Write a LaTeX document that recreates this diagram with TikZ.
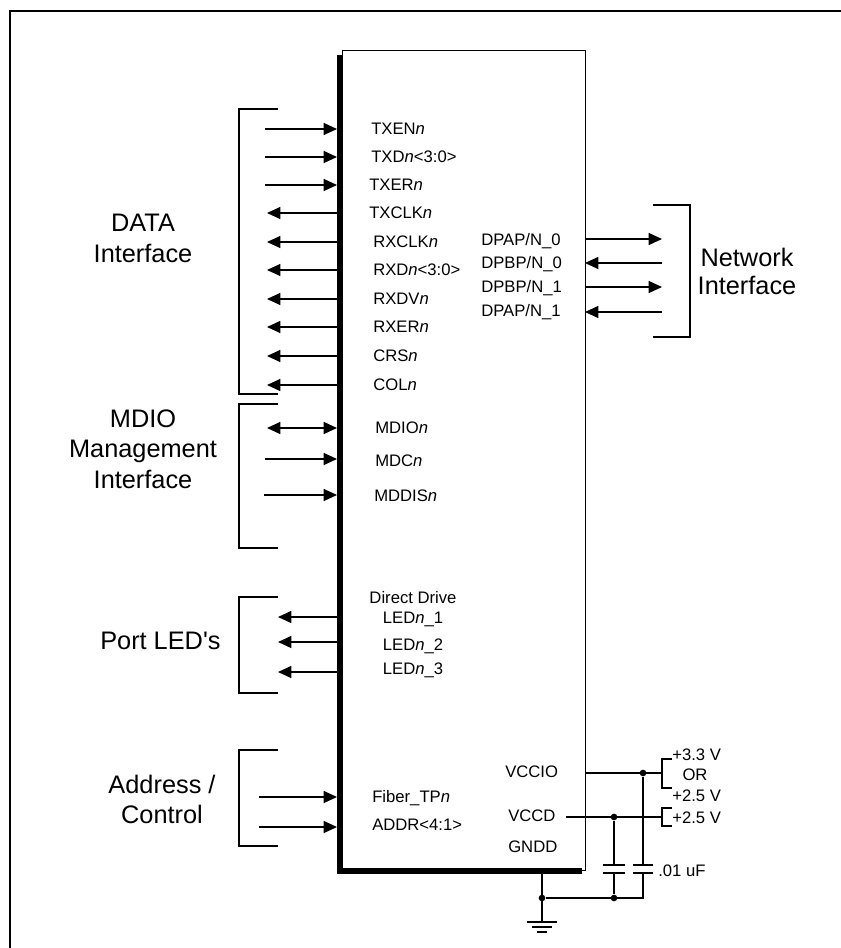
\documentclass[tikz,border=0pt]{standalone}
\usepackage{fontspec}
\setmainfont{Liberation Sans}
\usetikzlibrary{arrows.meta}
\newcommand\pinfont{\fontsize{12.5}{15}\selectfont}
\newcommand\grpfont{\fontsize{19}{23}\selectfont}
\begin{document}
\begin{tikzpicture}[x=0.75pt,y=-0.75pt,
  wire/.style={line width=0.9pt},
  tipr/.style={-{Triangle[length=10pt,width=9pt]}},
  tipb/.style={{Triangle[length=10pt,width=9pt]}-{Triangle[length=10pt,width=9pt]}},
  brk/.style={line width=0.8pt},
  pin/.style={font=\pinfont,anchor=west,inner sep=0pt},
  grp/.style={font=\grpfont,anchor=base,inner sep=0pt},
  dotc/.style={circle,fill,inner sep=0pt,minimum size=5pt}]
\useasboundingbox (0,0) rectangle (841,948);
% outer frame (top and left)
\draw[line width=1.6pt] (10,948) -- (10,11) -- (841,11);
% chip
\node[draw,line width=0.8pt,minimum width=182.25pt,minimum height=615pt,inner sep=0pt,anchor=north west] (chip) at (342,50) {};
\fill (337,55) rectangle (343,874);
\fill (337,868) rectangle (582,874);
% ---- DATA interface
\draw[brk] (278,109) -- (239,109) -- (239,394) -- (278,394);
\node[grp] (g1a) at (143,232) {DATA};
\node[grp] (g1b) at (143,263) {Interface};
\foreach \n/\y/\x in {txen/129/265,txd/157/265,txer/185/265}{
  \coordinate (\n-e) at (\x,\y); \coordinate (\n-p) at (337,\y);
  \draw[wire,tipr] (\n-e) -- (\n-p);}
\foreach \n/\y in {txclk/213,rxclk/242,rxd/270,rxdv/299,rxer/327,crs/356,col/385}{
  \coordinate (\n-e) at (267,\y); \coordinate (\n-p) at (337,\y);
  \draw[wire,tipr] (\n-p) -- (\n-e);}
\node[pin] (l1) at (371,129) {TXEN\textit{n}};
\node[pin] (l2) at (371,157) {TXD\textit{n}<3:0>};
\node[pin] (l3) at (369,185) {TXER\textit{n}};
\node[pin] (l4) at (369,213) {TXCLK\textit{n}};
\node[pin] (l5) at (373,242) {RXCLK\textit{n}};
\node[pin] (l6) at (373,270) {RXD\textit{n}<3:0>};
\node[pin] (l7) at (373,299) {RXDV\textit{n}};
\node[pin] (l8) at (373,327) {RXER\textit{n}};
\node[pin] (l9) at (373,356) {CRS\textit{n}};
\node[pin] (l10) at (373,385) {COL\textit{n}};
% ---- MDIO
\draw[brk] (278,404) -- (239,404) -- (239,548) -- (278,548);
\node[grp] (g2a) at (143,427) {MDIO};
\node[grp] (g2b) at (143,457) {Management};
\node[grp] (g2c) at (143,488) {Interface};
\coordinate (mdio-e) at (267,428); \coordinate (mdio-p) at (337,428);
\draw[wire,tipb] (mdio-e) -- (mdio-p);
\coordinate (mdc-e) at (265,459); \coordinate (mdc-p) at (337,459);
\draw[wire,tipr] (mdc-e) -- (mdc-p);
\coordinate (mddis-e) at (264,495); \coordinate (mddis-p) at (337,495);
\draw[wire,tipr] (mddis-e) -- (mddis-p);
\node[pin] (m1) at (375,428) {MDIO\textit{n}};
\node[pin] (m2) at (375,461) {MDC\textit{n}};
\node[pin] (m3) at (374,496) {MDDIS\textit{n}};
% ---- LEDs
\draw[brk] (278,597) -- (239,597) -- (239,693) -- (278,693);
\node[grp,anchor=base west] (g3) at (100,649) {Port LED\textquotesingle s};
\foreach \n/\y in {led1/617,led2/642,led3/672}{
  \coordinate (\n-e) at (278,\y); \coordinate (\n-p) at (337,\y);
  \draw[wire,tipr] (\n-p) -- (\n-e);}
\node[pin,anchor=center] (d0) at (413,598) {Direct Drive};
\node[pin,anchor=center] (d1) at (413,619) {LED\textit{n}\_1};
\node[pin,anchor=center] (d2) at (413,646) {LED\textit{n}\_2};
\node[pin,anchor=center] (d3) at (413,670) {LED\textit{n}\_3};
% ---- Address / Control
\draw[brk] (278,750) -- (239,750) -- (239,846) -- (278,846);
\node[grp] (g4a) at (162,793) {Address /};
\node[grp] (g4b) at (162,823) {Control};
\coordinate (fib-e) at (259,797); \coordinate (fib-p) at (337,797);
\draw[wire,tipr] (fib-e) -- (fib-p);
\coordinate (addr-e) at (259,827); \coordinate (addr-p) at (337,827);
\draw[wire,tipr] (addr-e) -- (addr-p);
\node[pin] (a1) at (372,798) {Fiber\_TP\textit{n}};
\node[pin] (a2) at (372,825) {ADDR<4:1>};
% ---- Network interface
\draw[brk] (653,205) -- (690,205) -- (690,337) -- (653,337);
\node[grp] (g5a) at (747,267) {Network};
\node[grp] (g5b) at (747,295) {Interface};
\coordinate (n0-p) at (585,239); \coordinate (n0-e) at (662,239);
\draw[wire,tipr] (n0-p) -- (n0-e);
\coordinate (n1-p) at (585,263); \coordinate (n1-e) at (662,263);
\draw[wire,tipr] (n1-e) -- (n1-p);
\coordinate (n2-p) at (585,287); \coordinate (n2-e) at (662,287);
\draw[wire,tipr] (n2-p) -- (n2-e);
\coordinate (n3-p) at (585,312); \coordinate (n3-e) at (662,312);
\draw[wire,tipr] (n3-e) -- (n3-p);
\node[pin] (k0) at (481,241) {DPAP/N\_0};
\node[pin] (k1) at (481,264) {DPBP/N\_0};
\node[pin] (k2) at (481,288) {DPBP/N\_1};
\node[pin] (k3) at (481,312) {DPAP/N\_1};
% ---- Power
\node[pin] (vccio) at (505,772) {VCCIO};
\node[pin] (vccd) at (508,816) {VCCD};
\node[pin] (gndd) at (508,847) {GNDD};
\coordinate (vio-p) at (585,773); \coordinate (vio-b) at (662,773);
\coordinate (vd-p) at (566,817); \coordinate (vd-b) at (662,817);
\node[dotc] (dio) at (643,773) {};
\node[dotc] (dd) at (614,817) {};
\draw[wire] (vio-p) -- (vio-b);
\draw[wire] (vd-p) -- (vd-b);
\draw[brk] (672,759) -- (662,759) -- (662,788) -- (672,788);
\draw[brk] (672,808) -- (662,808) -- (662,826) -- (672,826);
\node[pin] (p33) at (672,755) {+3.3 V};
\node[pin,anchor=center] (por) at (695,775) {OR};
\node[pin] (p25a) at (672,796) {+2.5 V};
\node[pin] (p25b) at (672,818) {+2.5 V};
% capacitors
\coordinate (c1t) at (614,865); \coordinate (c1b) at (614,873);
\coordinate (c2t) at (643,865); \coordinate (c2b) at (643,873);
\draw[wire] (dd) -- (c1t);
\draw[wire] (dio) -- (c2t);
\draw[wire] ([xshift=-8pt]c1t) -- ([xshift=8pt]c1t);
\draw[wire] ([xshift=-8pt]c1b) -- ([xshift=8pt]c1b);
\draw[wire] ([xshift=-7.5pt]c2t) -- ([xshift=7.5pt]c2t);
\draw[wire] ([xshift=-7.5pt]c2b) -- ([xshift=7.5pt]c2b);
\node[dotc] (gj) at (542,898) {};
\node[dotc] (cj) at (614,898) {};
\coordinate (c2g) at (643,898);
\draw[wire] (c1b) -- (cj);
\draw[wire] (c2b) -- (c2g) -- (gj);
\node[pin] (cap) at (658,871) {.01 uF};
% ground
\coordinate (gtop) at (542,872); \coordinate (gnd) at (542,922);
\draw[wire] (gtop) -- (gnd);
\draw[wire] (527,922) -- (557,922);
\draw[wire] (532,927) -- (552,927);
\draw[wire] (537,932) -- (547,932);
\end{tikzpicture}
\end{document}
